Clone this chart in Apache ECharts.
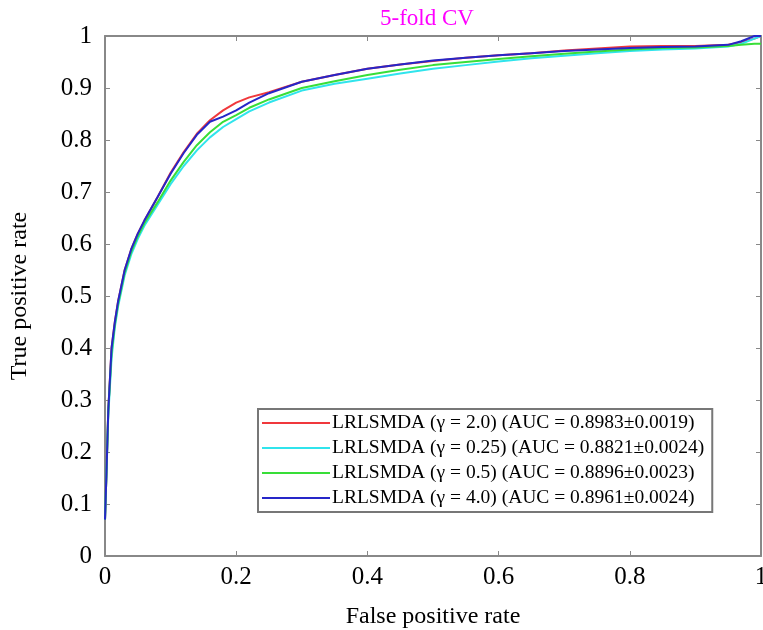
<!DOCTYPE html>
<html><head><meta charset="utf-8">
<script src="https://cdn.jsdelivr.net/npm/echarts@6/dist/echarts.min.js"></script>
<style>html,body{margin:0;padding:0;background:#fff}#c{width:763px;height:630px}</style>
</head><body><div id="c"></div>
<script>
const fpr = [0, 0.002, 0.005, 0.01, 0.015, 0.02, 0.03, 0.04, 0.05, 0.06, 0.08, 0.1, 0.12, 0.14, 0.16, 0.18, 0.2, 0.22, 0.25, 0.3, 0.35, 0.4, 0.45, 0.5, 0.55, 0.6, 0.65, 0.7, 0.75, 0.8, 0.85, 0.9, 0.95, 0.97, 0.99, 1.0];
const tprG20 = [0.07, 0.15, 0.28, 0.40, 0.45, 0.49, 0.55, 0.59, 0.62, 0.645, 0.69, 0.737, 0.777, 0.812, 0.838, 0.857, 0.872, 0.882, 0.892, 0.912, 0.925, 0.937, 0.945, 0.952, 0.958, 0.963, 0.967, 0.972, 0.976, 0.98, 0.981, 0.981, 0.983, 0.988, 0.995, 1.0];
const tprG025 = [0.07, 0.15, 0.27, 0.38, 0.44, 0.48, 0.54, 0.58, 0.61, 0.635, 0.675, 0.715, 0.75, 0.78, 0.805, 0.825, 0.84, 0.855, 0.872, 0.895, 0.908, 0.918, 0.928, 0.937, 0.944, 0.951, 0.957, 0.962, 0.967, 0.971, 0.974, 0.976, 0.98, 0.985, 0.995, 1.0];
const tprG05 = [0.07, 0.15, 0.28, 0.39, 0.445, 0.485, 0.545, 0.585, 0.615, 0.64, 0.68, 0.722, 0.758, 0.79, 0.815, 0.835, 0.848, 0.862, 0.878, 0.9, 0.913, 0.925, 0.935, 0.944, 0.95, 0.956, 0.961, 0.966, 0.97, 0.974, 0.977, 0.978, 0.981, 0.983, 0.985, 0.985];
const tprG40 = [0.07, 0.15, 0.28, 0.40, 0.45, 0.49, 0.55, 0.59, 0.62, 0.645, 0.69, 0.735, 0.775, 0.81, 0.835, 0.845, 0.857, 0.872, 0.89, 0.912, 0.925, 0.937, 0.945, 0.953, 0.958, 0.963, 0.967, 0.971, 0.974, 0.977, 0.979, 0.98, 0.983, 0.99, 1.0, 1.0];
const seriesNames = [
  'LRLSMDA (\u03b3 = 2.0) (AUC = 0.8983\u00b10.0019)',
  'LRLSMDA (\u03b3 = 0.25) (AUC = 0.8821\u00b10.0024)',
  'LRLSMDA (\u03b3 = 0.5) (AUC = 0.8896\u00b10.0023)',
  'LRLSMDA (\u03b3 = 4.0) (AUC = 0.8961\u00b10.0024)'
];
const seriesValues = [tprG20, tprG025, tprG05, tprG40];
const seriesColors = ['#f0383c', '#30e4ec', '#38de38', '#2626c8'];
const tickLabels = ['0', '0.1', '0.2', '0.3', '0.4', '0.5', '0.6', '0.7', '0.8', '0.9', '1'];

const font = 'Liberation Serif';
const chart = echarts.init(document.getElementById('c'), null, {renderer: 'canvas'});
const lbl = v => tickLabels[Math.round(v * 10)];
const xAxisCommon = {type: 'value', min: 0, max: 1, interval: 0.2,
  axisLine: {show: true, onZero: false, lineStyle: {color: '#888', width: 2}},
  axisTick: {show: true, inside: true, length: 5, lineStyle: {color: '#888'}},
  splitLine: {show: false}};
const yAxisCommon = {type: 'value', min: 0, max: 1, interval: 0.1,
  axisLine: {show: true, onZero: false, lineStyle: {color: '#888', width: 2}},
  axisTick: {show: true, inside: true, length: 5, lineStyle: {color: '#888'}},
  splitLine: {show: false}};
chart.setOption({
  animation: false,
  backgroundColor: '#fff',
  title: {text: '5-fold CV', left: 422, top: 2, textAlign: 'center',
    textStyle: {fontFamily: font, fontSize: 23, fontWeight: 'normal', color: '#ff00ff'}},
  grid: {left: 105, right: 2, top: 36, bottom: 74, containLabel: false, outerBoundsMode: 'none'},
  xAxis: [
    Object.assign({}, xAxisCommon, {position: 'bottom',
      name: 'False positive rate', nameLocation: 'middle', nameGap: 49,
      nameTextStyle: {fontFamily: font, fontSize: 24, color: '#000'},
      axisLabel: {fontFamily: font, fontSize: 25, color: '#000', margin: 9, formatter: lbl}}),
    Object.assign({}, xAxisCommon, {position: 'top', axisLabel: {show: false}})
  ],
  yAxis: [
    Object.assign({}, yAxisCommon, {position: 'left',
      name: 'True positive rate', nameLocation: 'middle', nameGap: 73,
      nameTextStyle: {fontFamily: font, fontSize: 24, color: '#000'},
      axisLabel: {fontFamily: font, fontSize: 25, color: '#000', margin: 13, formatter: lbl}}),
    Object.assign({}, yAxisCommon, {position: 'right', axisLabel: {show: false}})
  ],
  legend: {
    orient: 'vertical', left: 258, top: 409,
    padding: [4, 8, 4, 4], itemGap: 5, itemWidth: 68, itemHeight: 14,
    borderColor: '#777', borderWidth: 2, backgroundColor: '#fff',
    textStyle: {fontFamily: font, fontSize: 19.5, color: '#000', padding: [0, 0, 0, -3]},
    data: seriesNames.map(n => ({name: n, icon: 'path://M0,0 L68,0 L68,2 L0,2 Z'}))
  },
  series: seriesNames.map((n, i) => ({
    name: n, type: 'line', symbol: 'none', showSymbol: false,
    data: fpr.map((x, j) => [x, seriesValues[i][j]]),
    lineStyle: {color: seriesColors[i], width: 2}, itemStyle: {color: seriesColors[i]},
    z: i === 3 ? 5 : 3
  }))
});
</script></body></html>
